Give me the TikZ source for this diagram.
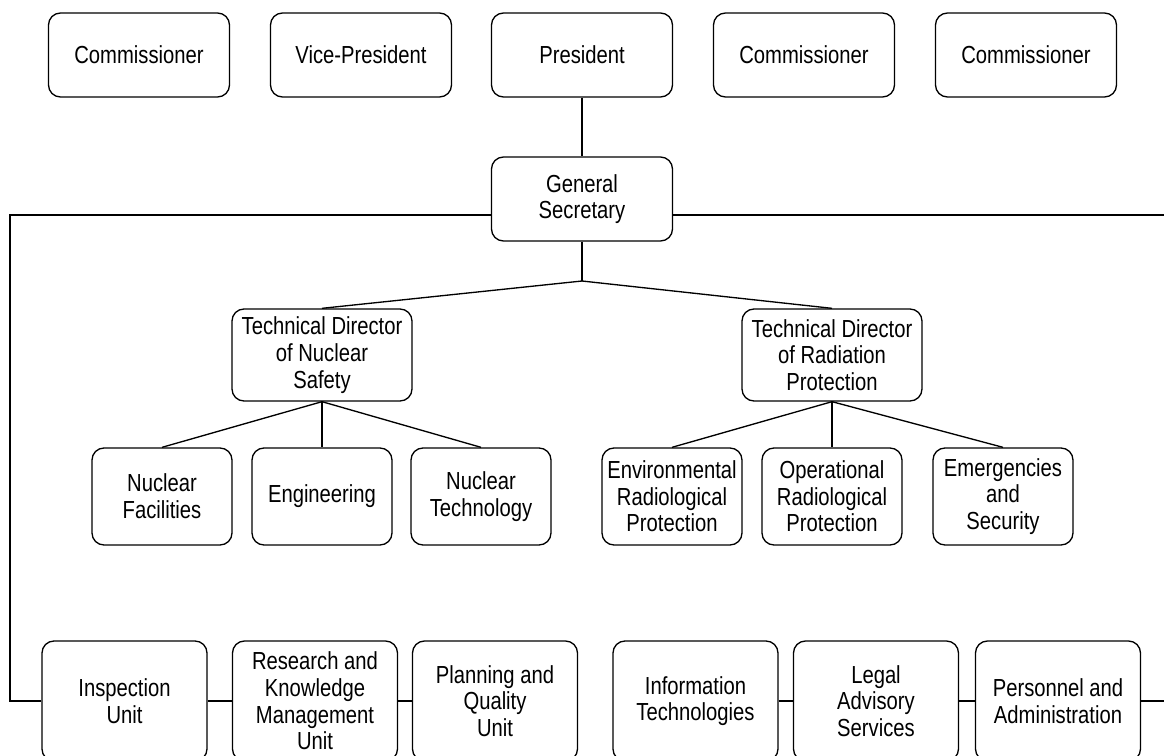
\documentclass[tikz,border=0pt]{standalone}
\usepackage{fontspec}
\setmainfont{Liberation Sans}[FakeStretch=0.82]

\tikzset{every picture/.style={line width=1pt}}
\tikzset{
  orgbox/.style={draw, rounded corners=9pt, align=center, inner sep=0pt,
    font=\fontsize{18.5pt}{20pt}\selectfont},
  topbox/.style={orgbox, minimum width=135.75pt, minimum height=63pt},
  tdbox/.style={orgbox, minimum width=135pt, minimum height=69pt},
  subbox/.style={orgbox, minimum width=105pt, minimum height=72.75pt},
  unitbox/.style={orgbox, minimum width=123.75pt, minimum height=90pt}
}

\begin{document}
\begin{tikzpicture}[x=0.75pt,y=0.75pt,yscale=-1,xscale=1]
\useasboundingbox (0,0) rectangle (1164,756);

%Top row
\node (com1) at (139,55) [topbox] {Commissioner};
\node (vice) at (361,55) [topbox] {Vice-President};
\node (pres) at (582,55) [topbox] {President};
\node (com2) at (804,55) [topbox] {Commissioner};
\node (com3) at (1026,55) [topbox] {Commissioner};

%Secretary
\node (gs) at (582,199) [topbox] {General\\Secretary};

%Technical directors
\node (tdns) at (322,355) [tdbox] {Technical Director\\of Nuclear\\Safety};
\node (tdrp) at (832,355) [tdbox] {Technical Director\\of Radiation\\Protection};

%Sub-directorates
\node (nf) at (162,496.5) [subbox] {Nuclear\\Facilities};
\node (eng) at (322,496.5) [subbox] {Engineering};
\node (nt) at (481,496.5) [subbox] {Nuclear\\Technology};
\node (erp) at (672,496.5) [subbox] {Environmental\\Radiological\\Protection};
\node (orp) at (832,496.5) [subbox] {Operational\\Radiological\\Protection};
\node (es) at (1003,496.5) [subbox] {Emergencies\\and\\Security};

%Bottom units
\node (insp) at (124.5,701) [unitbox] {Inspection\\Unit};
\node (rkm) at (315,701) [unitbox] {Research and\\Knowledge\\Management\\Unit};
\node (pq) at (495,701) [unitbox] {Planning and\\Quality\\Unit};
\node (it) at (695.5,701) [unitbox] {Information\\Technologies};
\node (legal) at (876,701) [unitbox] {Legal\\Advisory\\Services};
\node (pers) at (1058,701) [unitbox] {Personnel and\\Administration};

%Free ends
\coordinate (split) at (582,281);
\coordinate (lefttop) at (10,215);
\coordinate (righttop) at (1172,215);
\coordinate (rightbot) at (1172,701);

%Connectors
\draw (pres) -- (gs);
\draw (gs) -- (split);
\draw (split) -- (tdns.north);
\draw (split) -- (tdrp.north);
\draw (tdns.south) -- (nf.north);
\draw (tdns.south) -- (eng.north);
\draw (tdns.south) -- (nt.north);
\draw (tdrp.south) -- (erp.north);
\draw (tdrp.south) -- (orp.north);
\draw (tdrp.south) -- (es.north);
\draw (gs.west |- lefttop) -- (lefttop) |- (insp.west);
\draw (gs.east |- righttop) -- (righttop);
\draw (insp) -- (rkm);
\draw (rkm) -- (pq);
\draw (it) -- (legal);
\draw (legal) -- (pers);
\draw (pers) -- (rightbot);
\end{tikzpicture}
\end{document}
